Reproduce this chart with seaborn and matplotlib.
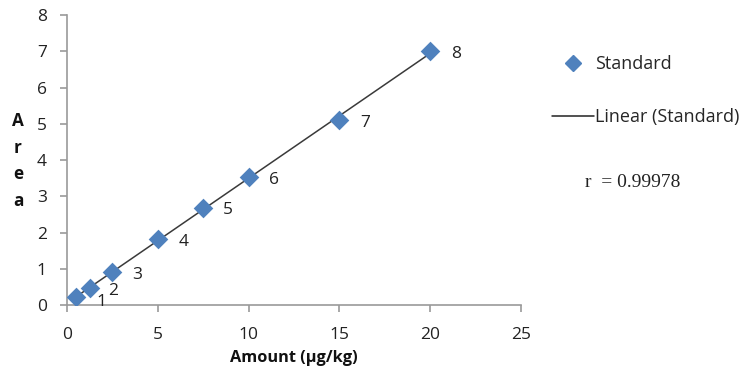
import matplotlib
matplotlib.use("Agg")
import matplotlib.pyplot as plt
import matplotlib.lines as mlines
import pandas as pd
import numpy as np
import seaborn as sns

# calibration standards
amount = [0.5, 1.25, 2.5, 5, 7.5, 10, 15, 20]
area = [0.21, 0.47, 0.91, 1.81, 2.69, 3.52, 5.10, 7.00]
point_labels = ["1", "2", "3", "4", "5", "6", "7", "8"]
r_text = "r  = 0.99978"

df = pd.DataFrame({"Amount": amount, "Area": area, "label": point_labels})

sns.set_style("white")
plt.rcParams['font.family'] = ['Open Sans', 'DejaVu Sans']

fig = plt.figure(figsize=(7.5, 3.78), dpi=100)
ax = fig.add_axes([0.0893, 0.193, 0.6054, 0.767])

blue = "#4F81BD"
sns.regplot(data=df, x="Amount", y="Area", ci=None, scatter=False, ax=ax,
            line_kws=dict(color="#3a3a3a", lw=1.1), truncate=True)
sns.scatterplot(data=df, x="Amount", y="Area", marker="D", s=100, color=blue,
                edgecolor=blue, linewidth=0, ax=ax, zorder=3, legend=False)

# point numbers, placed like the original
offsets = {"1": (15, -3.5), "2": (13, -2), "3": (14, -2), "4": (15, -2),
           "5": (14, -2), "6": (15, -2), "7": (15, -2), "8": (15, -2)}
for _, row in df.iterrows():
    ax.annotate(row["label"], (row["Amount"], row["Area"]),
                xytext=offsets[row["label"]], textcoords="offset points",
                fontsize=12.5, color="#222222", va="center", ha="left")

ax.set_xlim(0, 25)
ax.set_ylim(0, 8)
ax.set_xticks(range(0, 26, 5))
ax.set_yticks(range(0, 9))
for s in ["top", "right"]:
    ax.spines[s].set_visible(False)
for s in ["left", "bottom"]:
    ax.spines[s].set_color("#9a9a9a")
    ax.spines[s].set_linewidth(1.2)
ax.tick_params(axis="both", direction="out", length=5, width=1.2,
               color="#9a9a9a", labelcolor="#222222", labelsize=12.5,
               left=True, bottom=True)
ax.tick_params(axis="x", pad=11)
ax.tick_params(axis="y", pad=9.5)

ax.set_xlabel("Amount (µg/kg)", fontweight="bold", fontsize=11.8,
              color="#111111", labelpad=5)
ax.set_ylabel("")
fig.text(0.024, 0.574, "A\nr\ne\na", fontweight="bold", fontsize=12.3,
         ha="center", va="center", linespacing=1.6, color="#111111")

# legend on the right
h_pts = mlines.Line2D([], [], color=blue, marker="D", linestyle="None",
                      markersize=8)
h_fit = mlines.Line2D([], [], color="#222222", lw=1.1)
fig.legend([h_pts, h_fit], ["Standard", "Linear (Standard)"],
           loc="upper left", bbox_to_anchor=(0.724, 0.878), frameon=False,
           fontsize=13, handlelength=2.3, handletextpad=0.1,
           labelspacing=1.95, borderpad=0)
fig.text(0.78, 0.518, r_text, family="Liberation Serif", fontsize=14,
         color="#222222", va="center")

fig.savefig("out.png", dpi=100)
